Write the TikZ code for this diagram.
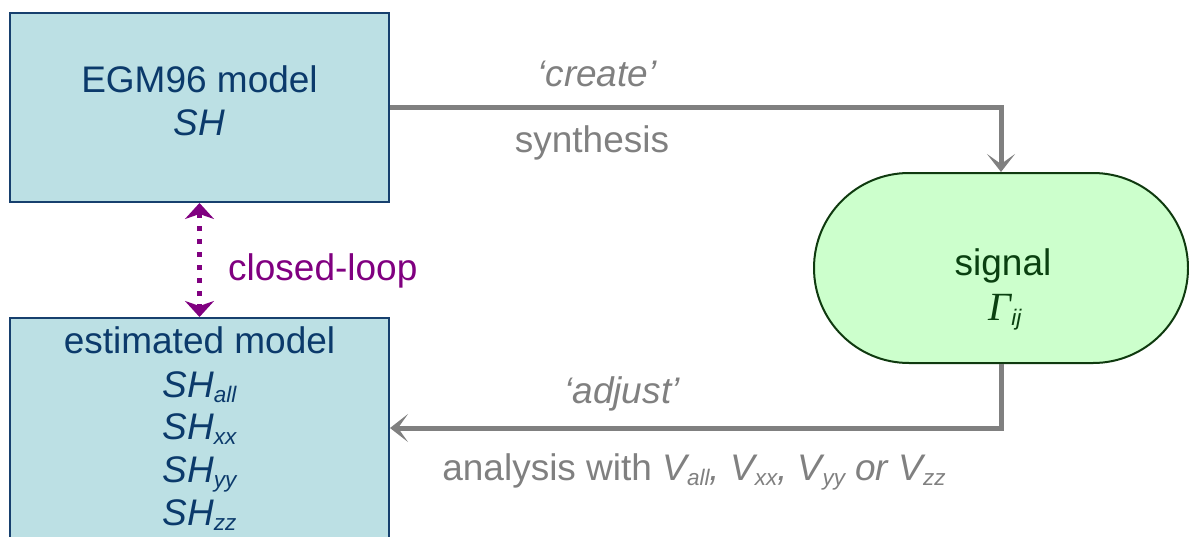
\documentclass[tikz,border=0pt]{standalone}
\usepackage{fontspec}
\setmainfont{Liberation Sans}
\newfontfamily\greekserif{Liberation Serif}
\usetikzlibrary{arrows.meta,shapes.misc}

\definecolor{boxfill}{HTML}{BCE0E4}
\definecolor{boxline}{HTML}{17406E}
\definecolor{boxtext}{HTML}{0B3A6B}
\definecolor{sigfill}{HTML}{CCFFCC}
\definecolor{sigline}{HTML}{0F3A0F}
\definecolor{sigtext}{HTML}{0A4010}
\definecolor{flowgray}{HTML}{808080}
\definecolor{loopviolet}{HTML}{800080}

% small lowered index set in the running font
\newcommand\subtxt[1]{\raisebox{-0.16em}{\fontsize{22.5}{22.5}\selectfont #1}}

\begin{document}
\begin{tikzpicture}[x=1pt,y=-1pt,
  font=\fontsize{37}{43}\selectfont,
  modelbox/.style={draw=boxline, line width=2pt, fill=boxfill, inner sep=0pt,
    minimum width=379pt},
  signalbox/.style={rounded rectangle, draw=sigline, line width=2pt, fill=sigfill,
    inner sep=0pt, minimum width=374pt, minimum height=190pt},
  boxlabel/.style={text=boxtext, anchor=base, inner sep=0pt},
  siglabel/.style={text=sigtext, anchor=base, inner sep=0pt},
  flowlabel/.style={text=flowgray, anchor=base, inner sep=0pt},
  grayflow/.style={draw=flowgray, line width=5pt,
    -{Stealth[length=18pt,width=28pt,inset=10pt]}},
  loopflow/.style={draw=loopviolet, line width=5.5pt, dash pattern=on 5pt off 8pt,
    {Stealth[length=16pt,width=29pt,inset=5pt]}-{Stealth[length=16pt,width=29pt,inset=5pt]}}
]
\useasboundingbox (0,0) rectangle (1189,536);
\clip (0,0) rectangle (1189,536);

% boxes
\node[modelbox, minimum height=189pt] (egm) at (199.5,107.5) {};
\node[modelbox, minimum height=220pt] (est) at (199.5,428) {};
\node[signalbox] (signal) at (1001,268) {};

% box texts
\node[boxlabel] (egmname) at (199.5,92) {EGM96 model};
\node[boxlabel] (egmsym) at (199.5,135) {\itshape SH};

\node[boxlabel] (estname) at (199.5,353) {estimated model};
\node[boxlabel] (estall) at (199.5,397) {\itshape SH\subtxt{all}};
\node[boxlabel] (estxx) at (199.5,439) {\itshape SH\subtxt{xx}};
\node[boxlabel] (estyy) at (199.5,482) {\itshape SH\subtxt{yy}};
\node[boxlabel] (estzz) at (199.5,525) {\itshape SH\subtxt{zz}};

\node[siglabel] (signame) at (1003,275) {signal};
\node[siglabel] (sigsym) at (1005,320) {{\greekserif\itshape\fontsize{40}{40}\selectfont Γ}\subtxt{\itshape ij}};

% connectors
\draw[grayflow] (egm.east) -| (signal.north);
\draw[grayflow] (signal.south) |- (est.east);
\draw[loopflow] (egm.south) -- (est.north);

% connector labels
\node[flowlabel] (create) at (597,86) {\itshape ‘create’};
\node[flowlabel] (synth) at (592,152) {synthesis};
\node[flowlabel] (adjust) at (622,403) {\itshape ‘adjust’};
\node[flowlabel] (analysis) at (694,480) {analysis with {\itshape V\subtxt{all}, V\subtxt{xx}, V\subtxt{yy} or V\subtxt{zz}}};
\node[text=loopviolet, anchor=base west, inner sep=0pt] (loop) at (228,280) {closed-loop};
\end{tikzpicture}
\end{document}
